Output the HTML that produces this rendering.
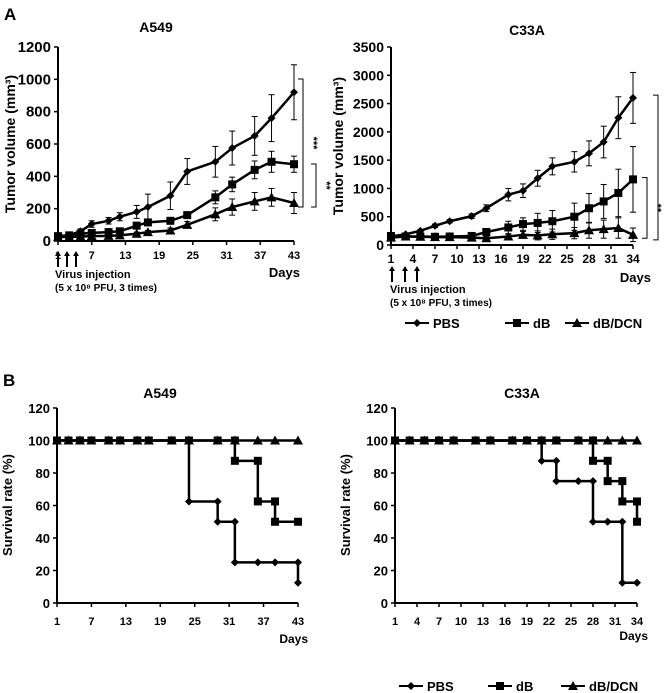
<!DOCTYPE html>
<html><head><meta charset="utf-8"><style>
body{margin:0;background:#fff;}
svg{display:block;font-family:"Liberation Sans",sans-serif;font-weight:bold;}
</style></head><body>
<svg id="fig" width="665" height="693" viewBox="0 0 665 693">
<text x="4" y="20" font-size="17">A</text>
<text x="3" y="386" font-size="17">B</text>
</svg>
<script>
// ---- Data ----
const a549Days=[1,3,5,7,10,12,15,17,21,24,29,32,36,39,43];
const a549Pbs=[30,35,60,105,125,150,180,210,280,430,490,575,650,760,920];
const a549PbsErr=[10,10,15,20,20,25,40,80,85,80,95,105,120,145,170];
const a549Db=[30,35,45,50,55,60,95,115,125,160,270,350,440,490,475];
const a549DbErr=[10,10,10,10,15,15,15,15,20,20,40,45,55,65,50];
const a549Dcn=[25,25,28,30,32,35,45,55,65,100,165,210,245,270,235];
const a549DcnErr=[5,5,5,5,5,5,10,10,15,20,40,50,55,55,65];
const a549Ticks=[1,7,13,19,25,31,37,43];
const a549YTicks=[0,200,400,600,800,1000,1200];

const c33Days=[1,3,5,7,9,12,14,17,19,21,23,26,28,30,32,34];
const c33Pbs=[150,190,250,340,420,510,650,890,960,1180,1390,1470,1620,1820,2250,2600];
const c33PbsErr=[20,20,20,30,30,40,60,110,120,140,150,180,220,280,370,450];
const c33Db=[160,150,150,145,150,160,230,310,370,390,420,500,650,770,920,1160];
const c33DbErr=[20,20,20,20,20,30,60,110,110,170,190,240,260,300,420,580];
const c33Dcn=[130,150,145,140,140,130,120,150,180,170,190,210,260,280,300,180];
const c33DcnErr=[20,20,20,20,20,20,30,40,60,80,90,100,140,160,180,120];
const c33Ticks=[1,4,7,10,13,16,19,22,25,28,31,34];
const c33YTicks=[0,500,1000,1500,2000,2500,3000,3500];

const sA549Pbs=[100,100,100,100,100,100,100,100,100,62.5,50,25,25,25,12.5];
const sA549Db=[100,100,100,100,100,100,100,100,100,100,100,87.5,62.5,50,50];
const sA549Dcn=[100,100,100,100,100,100,100,100,100,100,100,100,100,100,100];
const sC33Pbs=[100,100,100,100,100,100,100,100,100,87.5,75,75,50,50,12.5,12.5];
const sC33Db=[100,100,100,100,100,100,100,100,100,100,100,100,87.5,75,62.5,50];
const sC33Dcn=[100,100,100,100,100,100,100,100,100,100,100,100,100,100,100,100];
const survYTicks=[0,20,40,60,80,100,120];

const NS="http://www.w3.org/2000/svg";
const svg=document.getElementById('fig');
function mk(tag,attrs,parent){const e=document.createElementNS(NS,tag);for(const k in attrs)e.setAttribute(k,attrs[k]);(parent||svg).appendChild(e);return e;}
function txt(x,y,s,size,anchor,parent){const t=mk('text',{x:x,y:y,'font-size':size,'text-anchor':anchor||'start'},parent);t.textContent=s;return t;}

function marker(g,type,x,y,s){
  let e;
  if(type==='d'){e=mk('polygon',{points:`${x},${y-s} ${x+s},${y} ${x},${y+s} ${x-s},${y}`,fill:'#000'},g);}
  else if(type==='s'){e=mk('rect',{x:x-s,y:y-s,width:2*s,height:2*s,fill:'#000'},g);}
  else {e=mk('polygon',{points:`${x},${y-s-1} ${x+s+1},${y+s} ${x-s-1},${y+s}`,fill:'#000'},g);}
  return e;
}

function axes(g,o){
  const {x0,x1,y0,y1,dmin,dmax,ymax,xt,yt,title,tx,ty,fs,ytfs}=o;
  const xoff=o.xoff||18;
  const X=d=>x0+(d-dmin)/(dmax-dmin)*(x1-x0);
  const Y=v=>y0-(v/ymax)*(y0-y1);
  mk('line',{x1:x0,y1:y1,x2:x0,y2:y0,stroke:'#000','stroke-width':2},g);
  mk('line',{x1:x0,y1:y0,x2:x1,y2:y0,stroke:'#000','stroke-width':2},g);
  yt.forEach(v=>{mk('line',{x1:x0-4,y1:Y(v),x2:x0,y2:Y(v),stroke:'#000','stroke-width':1.5},g);
    txt(x0-7,Y(v)+5,String(v),fs,'end',g);});
  xt.forEach(d=>{mk('line',{x1:X(d),y1:y0,x2:X(d),y2:y0+4,stroke:'#000','stroke-width':1.5},g);
    txt(X(d),y0+xoff,String(d),ytfs,'middle',g);});
  txt(tx,ty,title,14,'middle',g);
  return {X,Y};
}

function series(g,X,Y,days,vals,errs,type,name){
  const s=mk('g',{},g);
  
  
  if(errs){days.forEach((d,i)=>{const x=X(d);
    mk('line',{x1:x,y1:Y(vals[i]-errs[i]),x2:x,y2:Y(vals[i]+errs[i]),stroke:'#000','stroke-width':1},s);
    mk('line',{x1:x-3,y1:Y(vals[i]+errs[i]),x2:x+3,y2:Y(vals[i]+errs[i]),stroke:'#000','stroke-width':1},s);
    mk('line',{x1:x-3,y1:Y(vals[i]-errs[i]),x2:x+3,y2:Y(vals[i]-errs[i]),stroke:'#000','stroke-width':1},s);});}
  mk('polyline',{points:days.map((d,i)=>X(d)+','+Y(vals[i])).join(' '),fill:'none',stroke:'#000','stroke-width':2.5},s);
  days.forEach((d,i)=>marker(s,type,X(d),Y(vals[i]),4));
}
function stepSeries(g,X,Y,days,vals,type,name){
  const s=mk('g',{},g);
  
  
  let pts=[X(days[0])+','+Y(vals[0])];
  for(let i=1;i<days.length;i++){pts.push(X(days[i])+','+Y(vals[i-1]));pts.push(X(days[i])+','+Y(vals[i]));}
  mk('polyline',{points:pts.join(' '),fill:'none',stroke:'#000','stroke-width':2.5},s);
  days.forEach((d,i)=>{if(i>0&&vals[i]!==vals[i-1])marker(s,type,X(d),Y(vals[i-1]),4);marker(s,type,X(d),Y(vals[i]),4);});
}
function bracket(g,x,yt,yb,label){
  mk('polyline',{points:`${x-5},${yt} ${x},${yt} ${x},${yb} ${x-5},${yb}`,fill:'none',stroke:'#000','stroke-width':1},g);
  const t=txt(0,0,label,11,'middle',g);
  t.setAttribute('transform',`translate(${x+7},${(yt+yb)/2}) rotate(90)`);
}
function yTitle(g,x,y,s,size){const t=txt(0,0,s,size,'middle',g);t.setAttribute('transform',`translate(${x},${y}) rotate(-90)`);return t;}
function injection(g,xs,y,tx){
  xs.forEach(x=>{mk('line',{x1:x,y1:y+16,x2:x,y2:y+4,stroke:'#000','stroke-width':2},g);
    mk('polygon',{points:`${x-3},${y+5} ${x+3},${y+5} ${x},${y}`,fill:'#000'},g);});
  txt(tx,y+27,'Virus injection',11,'start',g);
  txt(tx,y+40,'(5 x 10⁸ PFU, 3 times)',10,'start',g);
}
function legend(g,y,xs){
  const items=[['d','PBS'],['s','dB'],['t','dB/DCN']];
  items.forEach((it,i)=>{const e=mk('g',{},g);
    
    
    mk('line',{x1:xs[i]-12,y1:y,x2:xs[i]+12,y2:y,stroke:'#000','stroke-width':2},e);
    marker(e,it[0],xs[i],y,4);txt(xs[i]+16,y+5,it[1],13,'start',e);});
}

// Chart 1: A549 tumor volume
let g=mk('g',{});


let ax=axes(g,{x0:58,x1:294,y0:241,y1:47,dmin:1,dmax:43,ymax:1200,xt:a549Ticks,yt:a549YTicks,title:'A549',tx:156,ty:32,fs:15,ytfs:11});
yTitle(g,15,144,'Tumor volume (mm³)',14);
series(g,ax.X,ax.Y,a549Days,a549Pbs,a549PbsErr,'d','series-pbs');
series(g,ax.X,ax.Y,a549Days,a549Db,a549DbErr,'s','series-db');
series(g,ax.X,ax.Y,a549Days,a549Dcn,a549DcnErr,'t','series-db-dcn');
bracket(g,303,79,207,'***');bracket(g,316,164,207,'**');
txt(300,277,'Days',13,'end',g);
injection(g,[58,67,76],251,55);

// Chart 2: C33A tumor volume
g=mk('g',{});


ax=axes(g,{x0:391,x1:633,y0:245,y1:47,dmin:1,dmax:34,ymax:3500,xt:c33Ticks,yt:c33YTicks,title:'C33A',tx:527,ty:35,fs:14,ytfs:12});
yTitle(g,343,146,'Tumor volume (mm³)',14);
series(g,ax.X,ax.Y,c33Days,c33Pbs,c33PbsErr,'d','series-pbs');
series(g,ax.X,ax.Y,c33Days,c33Db,c33DbErr,'s','series-db');
series(g,ax.X,ax.Y,c33Days,c33Dcn,c33DcnErr,'t','series-db-dcn');
bracket(g,658,ax.Y(2650),ax.Y(90),'**');bracket(g,647,ax.Y(1190),ax.Y(120),'**');
txt(651,282,'Days',13,'end',g);
injection(g,[392,405,417],266,390);
legend(g,323,[417,517,577]);

// Chart 3: A549 survival
g=mk('g',{});


ax=axes(g,{x0:57,x1:298,y0:603,y1:408,dmin:1,dmax:43,ymax:120,xt:a549Ticks,yt:survYTicks,title:'A549',tx:160,ty:398,fs:13,ytfs:11,xoff:22});
yTitle(g,12,505,'Survival rate (%)',13);
stepSeries(g,ax.X,ax.Y,a549Days,sA549Dcn,'t','series-db-dcn');
stepSeries(g,ax.X,ax.Y,a549Days,sA549Db,'s','series-db');
stepSeries(g,ax.X,ax.Y,a549Days,sA549Pbs,'d','series-pbs');
txt(308,643,'Days',12,'end',g);

// Chart 4: C33A survival
g=mk('g',{});


ax=axes(g,{x0:395,x1:637,y0:603,y1:408,dmin:1,dmax:34,ymax:120,xt:c33Ticks,yt:survYTicks,title:'C33A',tx:522,ty:398,fs:13,ytfs:11,xoff:22});
yTitle(g,350,505,'Survival rate (%)',13);
stepSeries(g,ax.X,ax.Y,c33Days,sC33Dcn,'t','series-db-dcn');
stepSeries(g,ax.X,ax.Y,c33Days,sC33Db,'s','series-db');
stepSeries(g,ax.X,ax.Y,c33Days,sC33Pbs,'d','series-pbs');
txt(648,640,'Days',12,'end',g);
legend(g,686,[411,500,573]);
</script>
</body></html>
